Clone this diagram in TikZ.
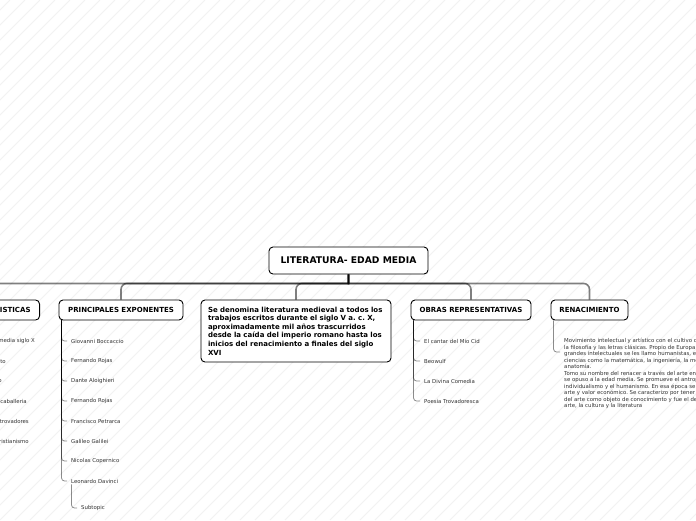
\documentclass[tikz,border=0pt]{standalone}
\usepackage{fontspec}
\setmainfont{DejaVu Sans}
\frenchspacing
\begin{document}
\begin{tikzpicture}[x=1pt,y=-1pt,
  box/.style={draw=black, line width=0.9pt, rounded corners=4pt, fill=white,
    font=\bfseries\fontsize{7}{8.6}\selectfont, inner sep=0pt, minimum height=20pt},
  item/.style={font=\fontsize{5.4}{6.5}\selectfont, inner xsep=4pt, inner ysep=1pt,
    anchor=west, text=black!80},
  bus/.style={draw=black, draw opacity=0.5, line width=1.6pt},
  twig/.style={draw=black, draw opacity=0.45, line width=0.8pt, rounded corners=3pt},
  hatch/.style={black!5, line width=0.8pt}]
\useasboundingbox (0,0) rectangle (696,520);
\clip (0,0) rectangle (696,520);
\fill[white] (0,0) rectangle (696,520);
\foreach \k in {-36,...,47} \draw[hatch] (\k*15,520) -- (\k*15+520,0);

% main nodes
\node[box, minimum width=159pt, minimum height=27pt,
  font=\bfseries\fontsize{9.2}{11}\selectfont] (root) at (348.5,260.5) {LITERATURA- EDAD MEDIA};
\node[box, anchor=east, inner xsep=9pt] (carac) at (40,310) {CARACTERISTICAS};
\node[box, minimum width=124pt] (princ) at (121,310) {PRINCIPALES EXPONENTES};
\node[box, minimum width=190pt, minimum height=62pt, align=left, text width=176pt] (desc) at (296,331)
  {Se denomina literatura medieval a todos los\\
   trabajos escritos durante el siglo V a. c. X,\\
   aproximadamente mil años trascurridos\\
   desde la caída del imperio romano hasta los\\
   inicios del renacimiento a finales del siglo\\
   XVI};
\node[box, minimum width=120pt] (obras) at (471,310) {OBRAS REPRESENTATIVAS};
\node[box, minimum width=77pt] (renac) at (589.5,310) {RENACIMIENTO};

% bus connectors
\coordinate (hub) at ([yshift=-9pt]root.south);
\foreach \n in {carac,princ,desc,obras,renac}
  \draw[bus] (root.south) -- (hub) [rounded corners=6pt] -| (\n.north);

% caracteristicas items
\node[item, anchor=east] (c1) at (39,341) {Se desarrolla en la edad media siglo X};
\node[item, anchor=east] (c2) at (10,361) {Anonimato};
\node[item, anchor=east] (c3) at (6,381) {Verso};
\node[item, anchor=east] (c4) at (31,401) {Libros de caballeria};
\node[item, anchor=east] (c5) at (33,421) {Poesía de trovadores};
\node[item, anchor=east] (c6) at (33,441) {Cristianismo};
\foreach \i in {1,...,6}
  \draw[twig] ([xshift=3pt]carac.south west) |- (c\i.west);

% principales exponentes items
\foreach \t [count=\i] in {Giovanni Boccaccio, Fernando Rojas, Dante Aloighieri,
    Fernando Rojas, Francisco Petrarca, Galileo Galilei, Nicolas Copernico, Leonardo Davinci}{
  \node[item] (p\i) at (67,{321+20*\i}) {\t};
  \draw[twig] ([xshift=3pt]princ.south west) |- (p\i.west);
}
\node[item] (sub) at (77,508) {Subtopic};
\draw[twig] ([xshift=4.5pt]p8.south west) |- (sub.west);

% obras items
\foreach \t [count=\i] in {El cantar del Mio Cid, Beowulf, La Divina Comedia, Poesia Trovadoresca}{
  \node[item] (o\i) at (420,{321+20*\i}) {\t};
  \draw[twig] ([xshift=3pt]obras.south west) |- (o\i.west);
}

% renacimiento text
\node[item, anchor=north west, align=left] (rtext) at (560,337)
  {Movimiento intelectual y artístico con el cultivo de\\
   la filosofía y las letras clásicas. Propio de Europa\\
   grandes intelectuales se les llamo humanistas, en\\
   ciencias como la matemática, la ingeniería, la medicina\\
   anatomía.\\
   Tomo su nombre del renacer a través del arte en\\
   se opuso a la edad media. Se promueve el antropocentrismo\\
   individualismo y el humanismo. En esa época se\\
   arte y valor económico. Se caracterizo por tener\\
   del arte como objeto de conocimiento y fue el desarrollo\\
   arte, la cultura y la literatura};
\draw[twig] ([xshift=3pt]renac.south west) |- ([yshift=-15pt]rtext.north west);
\end{tikzpicture}
\end{document}
